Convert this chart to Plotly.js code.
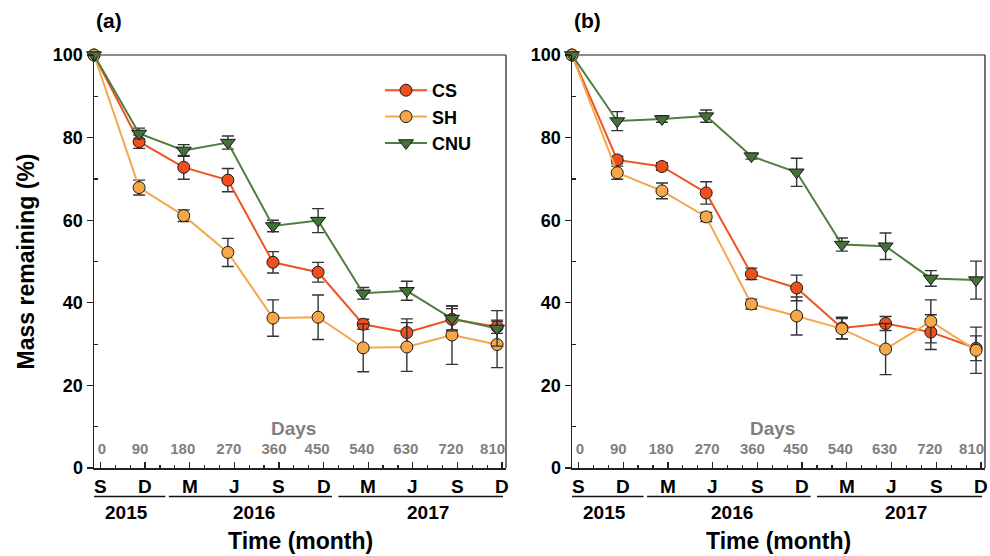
<!DOCTYPE html>
<html>
<head>
<meta charset="utf-8">
<script src="https://cdn.plot.ly/plotly-3.0.1.min.js"></script>
<style>html,body{margin:0;padding:0;background:#fff;}#chart{width:990px;height:556px;}</style>
</head>
<body>
<div id="chart"></div>
<script>
// Sampling days (position on the Days axis)
const days = [-13, 78, 168, 257, 348, 439, 530, 618, 709, 800];
const seriesNames = ['CS', 'SH', 'CNU'];

// Panel (a)
const a_CS = [100, 79.0, 72.8, 69.7, 49.8, 47.4, 34.8, 32.8, 36.0, 34.2];
const a_CS_err = [0, 1.6, 2.9, 2.8, 2.6, 2.4, 1.2, 3.3, 2.6, 1.6];
const a_SH = [100, 67.9, 61.1, 52.2, 36.3, 36.5, 29.1, 29.3, 32.2, 29.9];
const a_SH_err = [0, 1.8, 1.4, 3.4, 4.4, 5.4, 5.8, 5.9, 7.1, 5.6];
const a_CNU = [100, 81.0, 76.9, 78.8, 58.6, 59.9, 42.3, 42.9, 36.2, 33.8];
const a_CNU_err = [0, 1.3, 1.4, 1.6, 1.4, 2.9, 1.4, 2.3, 3.0, 4.3];

// Panel (b)
const b_CS = [100, 74.6, 73.0, 66.6, 47.0, 43.6, 33.9, 35.0, 32.9, 29.0];
const b_CS_err = [0, 0.9, 0.9, 2.7, 1.4, 3.1, 2.6, 1.7, 4.2, 3.0];
const b_SH = [100, 71.5, 67.1, 60.8, 39.7, 36.8, 33.7, 28.8, 35.5, 28.5];
const b_SH_err = [0, 1.6, 1.9, 1.1, 1.2, 4.6, 2.5, 6.2, 5.2, 5.6];
const b_CNU = [100, 84.0, 84.5, 85.2, 75.5, 71.6, 54.1, 53.7, 45.9, 45.5];
const b_CNU_err = [0, 2.3, 0.8, 1.5, 0.7, 3.4, 1.6, 3.2, 1.9, 4.6];

// Time axis labels
const dayTicks = [0, 90, 180, 270, 360, 450, 540, 630, 720, 810];
const dayLabelPos = [3, 80, 166, 259, 350, 437, 527, 616, 707, 791];
const monthLabels = ['S', 'D', 'M', 'J', 'S', 'D', 'M', 'J', 'S', 'D'];
const yearLabels = ['2015', '2016', '2017'];
const yearCenters = [53, 309, 660];
const yearStarts = [-13, 138, 480];
const yearEnds = [131, 467, 812];

const colors = {CS: '#ee5422', SH: '#f5a84b', CNU: '#4f7e3e'};
const markerFill = {CS: '#ef4f1c', SH: '#f6a847', CNU: '#44703a'};
const symbols = {CS: 'circle', SH: 'circle', CNU: 'triangle-down'};
const FONT = 'Arial, "Liberation Sans", Helvetica, sans-serif';

function mk(name, y, err, xa, ya, showleg) {
  return {
    type: 'scatter', mode: 'lines+markers', name: name,
    x: days, y: y, xaxis: xa, yaxis: ya, showlegend: showleg,
    cliponaxis: false,
    line: {color: colors[name], width: 2},
    marker: {symbol: symbols[name], size: name === 'CNU' ? 13 : 12, color: markerFill[name],
             line: {color: '#1a1a1a', width: 1}},
    error_y: {type: 'data', array: err, visible: true, color: '#333', thickness: 1.4, width: 6}
  };
}

const data = [
  mk('CS', a_CS, a_CS_err, 'x', 'y', true),
  mk('SH', a_SH, a_SH_err, 'x', 'y', true),
  mk('CNU', a_CNU, a_CNU_err, 'x', 'y', true),
  mk('CS', b_CS, b_CS_err, 'x2', 'y2', false),
  mk('SH', b_SH, b_SH_err, 'x2', 'y2', false),
  mk('CNU', b_CNU, b_CNU_err, 'x2', 'y2', false),
  // empty carriers for the Days label axes
  {type: 'scatter', x: [], y: [], xaxis: 'x3', yaxis: 'y', showlegend: false, hoverinfo: 'skip'},
  {type: 'scatter', x: [], y: [], xaxis: 'x4', yaxis: 'y2', showlegend: false, hoverinfo: 'skip'}
];

const ydom = [88/556, 501/556];
function xax(domain, anchor) {
  return {
    domain: domain, anchor: anchor, range: [-13, 818],
    tickmode: 'array', tickvals: dayTicks, showticklabels: false,
    ticks: 'inside', ticklen: 6, tickwidth: 1.3, tickcolor: '#222',
    minor: {tickmode: 'linear', tick0: 0, dtick: 30, ticks: 'inside', ticklen: 3, tickcolor: '#222', tickwidth: 1.2},
    showline: true, linecolor: '#222', linewidth: 1.5,
    showgrid: false, zeroline: false, fixedrange: true
  };
}
function dayAx(over) {
  return {
    overlaying: over, anchor: 'free', position: (556 - 438)/556, side: 'bottom',
    range: [-13, 818], tickmode: 'array', tickvals: dayLabelPos, ticktext: dayTicks.map(String),
    ticks: '', showline: false, showgrid: false, zeroline: false, fixedrange: true,
    tickfont: {family: FONT, size: 15, color: '#7f7f7f', weight: 'bold'}
  };
}
function yax(domain, anchor, title) {
  const o = {
    domain: domain, anchor: anchor, range: [0, 100],
    tickmode: 'linear', tick0: 0, dtick: 20,
    ticks: 'outside', ticklen: 6, tickwidth: 1.3, tickcolor: '#222',
    tickfont: {family: FONT, size: 18, color: '#000', weight: 'bold'},
    minor: {tickmode: 'linear', tick0: 10, dtick: 20, ticks: 'inside', ticklen: 4, tickcolor: '#222', tickwidth: 1.2},
    showline: true, linecolor: '#222', linewidth: 1.5,
    showgrid: false, zeroline: false, fixedrange: true
  };
  if (title) o.title = {text: title, standoff: 12, font: {family: FONT, size: 23, color: '#000', weight: 'bold'}};
  return o;
}

const annotations = [];
const shapes = [];
[['x', 'y'], ['x2', 'y2']].forEach(function (p, i) {
  const xr = p[0], yr = p[1];
  monthLabels.forEach(function (m, k) {
    annotations.push({xref: xr, yref: 'paper', x: dayTicks[k], y: 1 - 486/556, text: m, showarrow: false,
      xanchor: 'center', yanchor: 'middle', font: {family: FONT, size: 19, color: '#000', weight: 'bold'}});
  });
  yearLabels.forEach(function (yl, k) {
    annotations.push({xref: xr, yref: 'paper', x: yearCenters[k], y: 1 - 512/556, text: yl, showarrow: false,
      xanchor: 'center', yanchor: 'middle', font: {family: FONT, size: 19, color: '#000', weight: 'bold'}});
    shapes.push({type: 'line', xref: xr, yref: 'paper', x0: yearStarts[k], x1: yearEnds[k],
      y0: 1 - 496.5/556, y1: 1 - 496.5/556, line: {color: '#111', width: 1.6}});
  });
  annotations.push({xref: xr + ' domain', yref: 'paper', x: 0.5, y: 1 - 541/556, text: 'Time (month)', showarrow: false,
    xanchor: 'center', yanchor: 'middle', font: {family: FONT, size: 23, color: '#000', weight: 'bold'}});
  annotations.push({xref: xr, yref: 'paper', x: 390, y: 1 - 428/556, text: 'Days', showarrow: false,
    xanchor: 'center', yanchor: 'middle', font: {family: FONT, size: 19, color: '#7f7f7f', weight: 'bold'}});
  annotations.push({xref: xr + ' domain', yref: 'paper', x: 0, y: 1 - 20/556, text: i === 0 ? '(a)' : '(b)', showarrow: false,
    xanchor: 'left', yanchor: 'middle', font: {family: FONT, size: 21, color: '#000', weight: 'bold'}});
  // top and right frame lines
  shapes.push({type: 'line', xref: xr + ' domain', yref: yr + ' domain', x0: 0, x1: 1, y0: 1, y1: 1, line: {color: '#666', width: 1.5}});
  shapes.push({type: 'line', xref: xr + ' domain', yref: yr + ' domain', x0: 1, x1: 1, y0: 0, y1: 1, line: {color: '#444', width: 1.5}});
});

const layout = {
  width: 990, height: 556, autosize: false,
  margin: {l: 0, r: 0, t: 0, b: 0},
  paper_bgcolor: '#fff', plot_bgcolor: '#fff',
  font: {family: FONT},
  showlegend: true,
  legend: {x: 380/990, y: 1 - 72/556, xanchor: 'left', yanchor: 'top', bgcolor: 'rgba(0,0,0,0)',
           itemwidth: 42, tracegroupgap: 0, itemgap: 0,
           font: {family: FONT, size: 18, color: '#000', weight: 'bold'}},
  xaxis: xax([94/990, 506/990], 'y'),
  yaxis: yax(ydom, 'x', 'Mass remaining (%)'),
  xaxis2: xax([572/990, 985/990], 'y2'),
  yaxis2: yax(ydom, 'x2', null),
  xaxis3: dayAx('x'),
  xaxis4: dayAx('x2'),
  annotations: annotations,
  shapes: shapes
};

Plotly.newPlot('chart', data, layout, {staticPlot: true, displayModeBar: false});
</script>
</body>
</html>
